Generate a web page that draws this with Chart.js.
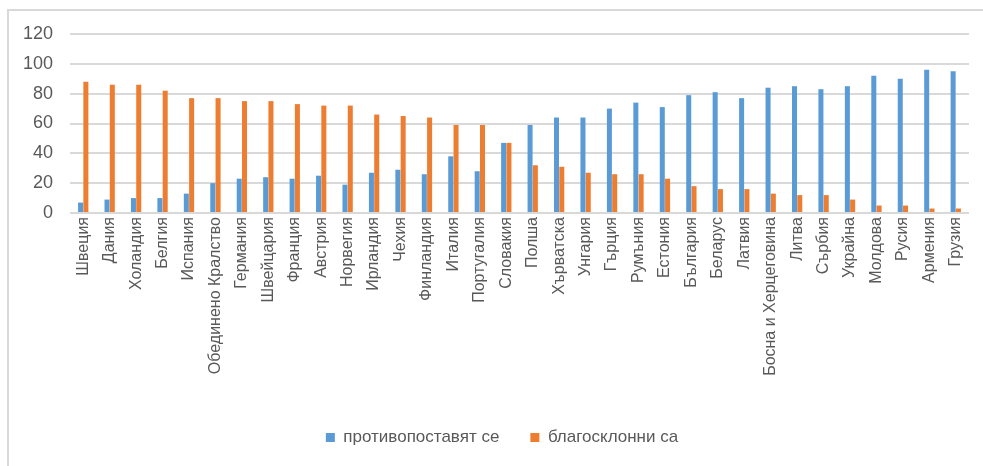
<!DOCTYPE html>
<html lang="bg">
<head>
<meta charset="utf-8">
<title>Противопоставят се / благосклонни са</title>
<script src="https://cdn.jsdelivr.net/npm/chart.js@4.4.0/dist/chart.umd.min.js"></script>
<style>
  html, body { margin: 0; padding: 0; background: #fff; overflow: hidden; }
  #wrap { position: relative; width: 983px; height: 466px; overflow: hidden; }
  /* chart frame, only its top and left edges fall inside the window */
  #frame {
    position: absolute; left: 7px; top: 9px; width: 1100px; height: 600px;
    border-left: 2px solid #d9d9d9; border-top: 2px solid #d9d9d9;
  }
  #barChart { position: absolute; left: 0; top: 0; }
</style>
</head>
<body>
<div id="wrap">
  <div id="frame"></div>
  <canvas id="barChart" width="983" height="456"></canvas>
</div>
<script>
// Countries in the order they are plotted
const countries = [
  'Швеция', 'Дания', 'Холандия', 'Белгия', 'Испания', 'Обединено Кралство',
  'Германия', 'Швейцария', 'Франция', 'Австрия', 'Норвегия', 'Ирландия',
  'Чехия', 'Финландия', 'Италия', 'Португалия', 'Словакия', 'Полша',
  'Хърватска', 'Унгария', 'Гърция', 'Румъния', 'Естония', 'България',
  'Беларус', 'Латвия', 'Босна и Херцеговина', 'Литва', 'Сърбия', 'Украйна',
  'Молдова', 'Русия', 'Армения', 'Грузия'
];

// Share (%) that oppose
const opposed = [
  7, 9, 10, 10, 13, 20, 23, 24, 23, 25, 19, 27,
  29, 26, 38, 28, 47, 59, 64, 64, 70, 74, 71, 79,
  81, 77, 84, 85, 83, 85, 92, 90, 96, 95
];

// Share (%) in favour
const favourable = [
  88, 86, 86, 82, 77, 77, 75, 75, 73, 72, 72, 66,
  65, 64, 59, 59, 47, 32, 31, 27, 26, 26, 23, 18,
  16, 16, 13, 12, 12, 9, 5, 5, 3, 3
];

const seriesNames = ['противопоставят се', 'благосклонни са'];
const yTicks = [0, 20, 40, 60, 80, 100, 120];

const textColor = '#595959';
const gridColor = '#d9d9d9';
const fontFamily = '"Liberation Sans", Arial, sans-serif';

const canvas = document.getElementById('barChart');
const ctx = canvas.getContext('2d');

// nudge the legend a little to the right of the canvas centre
const legendShift = {
  id: 'legendShift',
  afterLayout(chart) {
    if (chart.legend) {
      chart.legend.left += 35;
    }
  },
};

new Chart(ctx, {
  type: 'bar',
  data: {
    labels: countries,
    datasets: [{
      label: seriesNames[0],
      data: opposed,
      backgroundColor: '#5b9bd5',
      borderWidth: 0,
    }, {
      label: seriesNames[1],
      data: favourable,
      backgroundColor: '#ed7d31',
      borderWidth: 0,
    }],
  },
  plugins: [legendShift],
  options: {
    responsive: false,
    animation: false,
    devicePixelRatio: 1,
    layout: {
      padding: { left: 0, right: 14, top: 34, bottom: 0 },
    },
    datasets: {
      bar: { categoryPercentage: 0.4, barPercentage: 0.95 },
    },
    scales: {
      x: {
        grid: { display: false, drawTicks: false },
        border: { display: false },
        ticks: {
          autoSkip: false,
          minRotation: 90,
          maxRotation: 90,
          padding: 4,
          color: textColor,
          font: { family: fontFamily, size: 16 },
        },
        afterFit: (scale) => { scale.height = 185; },
      },
      y: {
        min: 0,
        max: yTicks[yTicks.length - 1],
        afterBuildTicks: (scale) => {
          scale.ticks = yTicks.map((v) => ({ value: v }));
        },
        grid: { color: gridColor, lineWidth: 2, drawTicks: false },
        border: { display: false },
        ticks: {
          padding: 17,
          color: textColor,
          font: { family: fontFamily, size: 18 },
        },
        afterFit: (scale) => { scale.width = 70; },
      },
    },
    plugins: {
      tooltip: { enabled: false },
      legend: {
        position: 'bottom',
        labels: {
          boxWidth: 9,
          boxHeight: 9,
          padding: 31,
          color: textColor,
          font: { family: fontFamily, size: 17 },
        },
      },
    },
  },
});
</script>
</body>
</html>
